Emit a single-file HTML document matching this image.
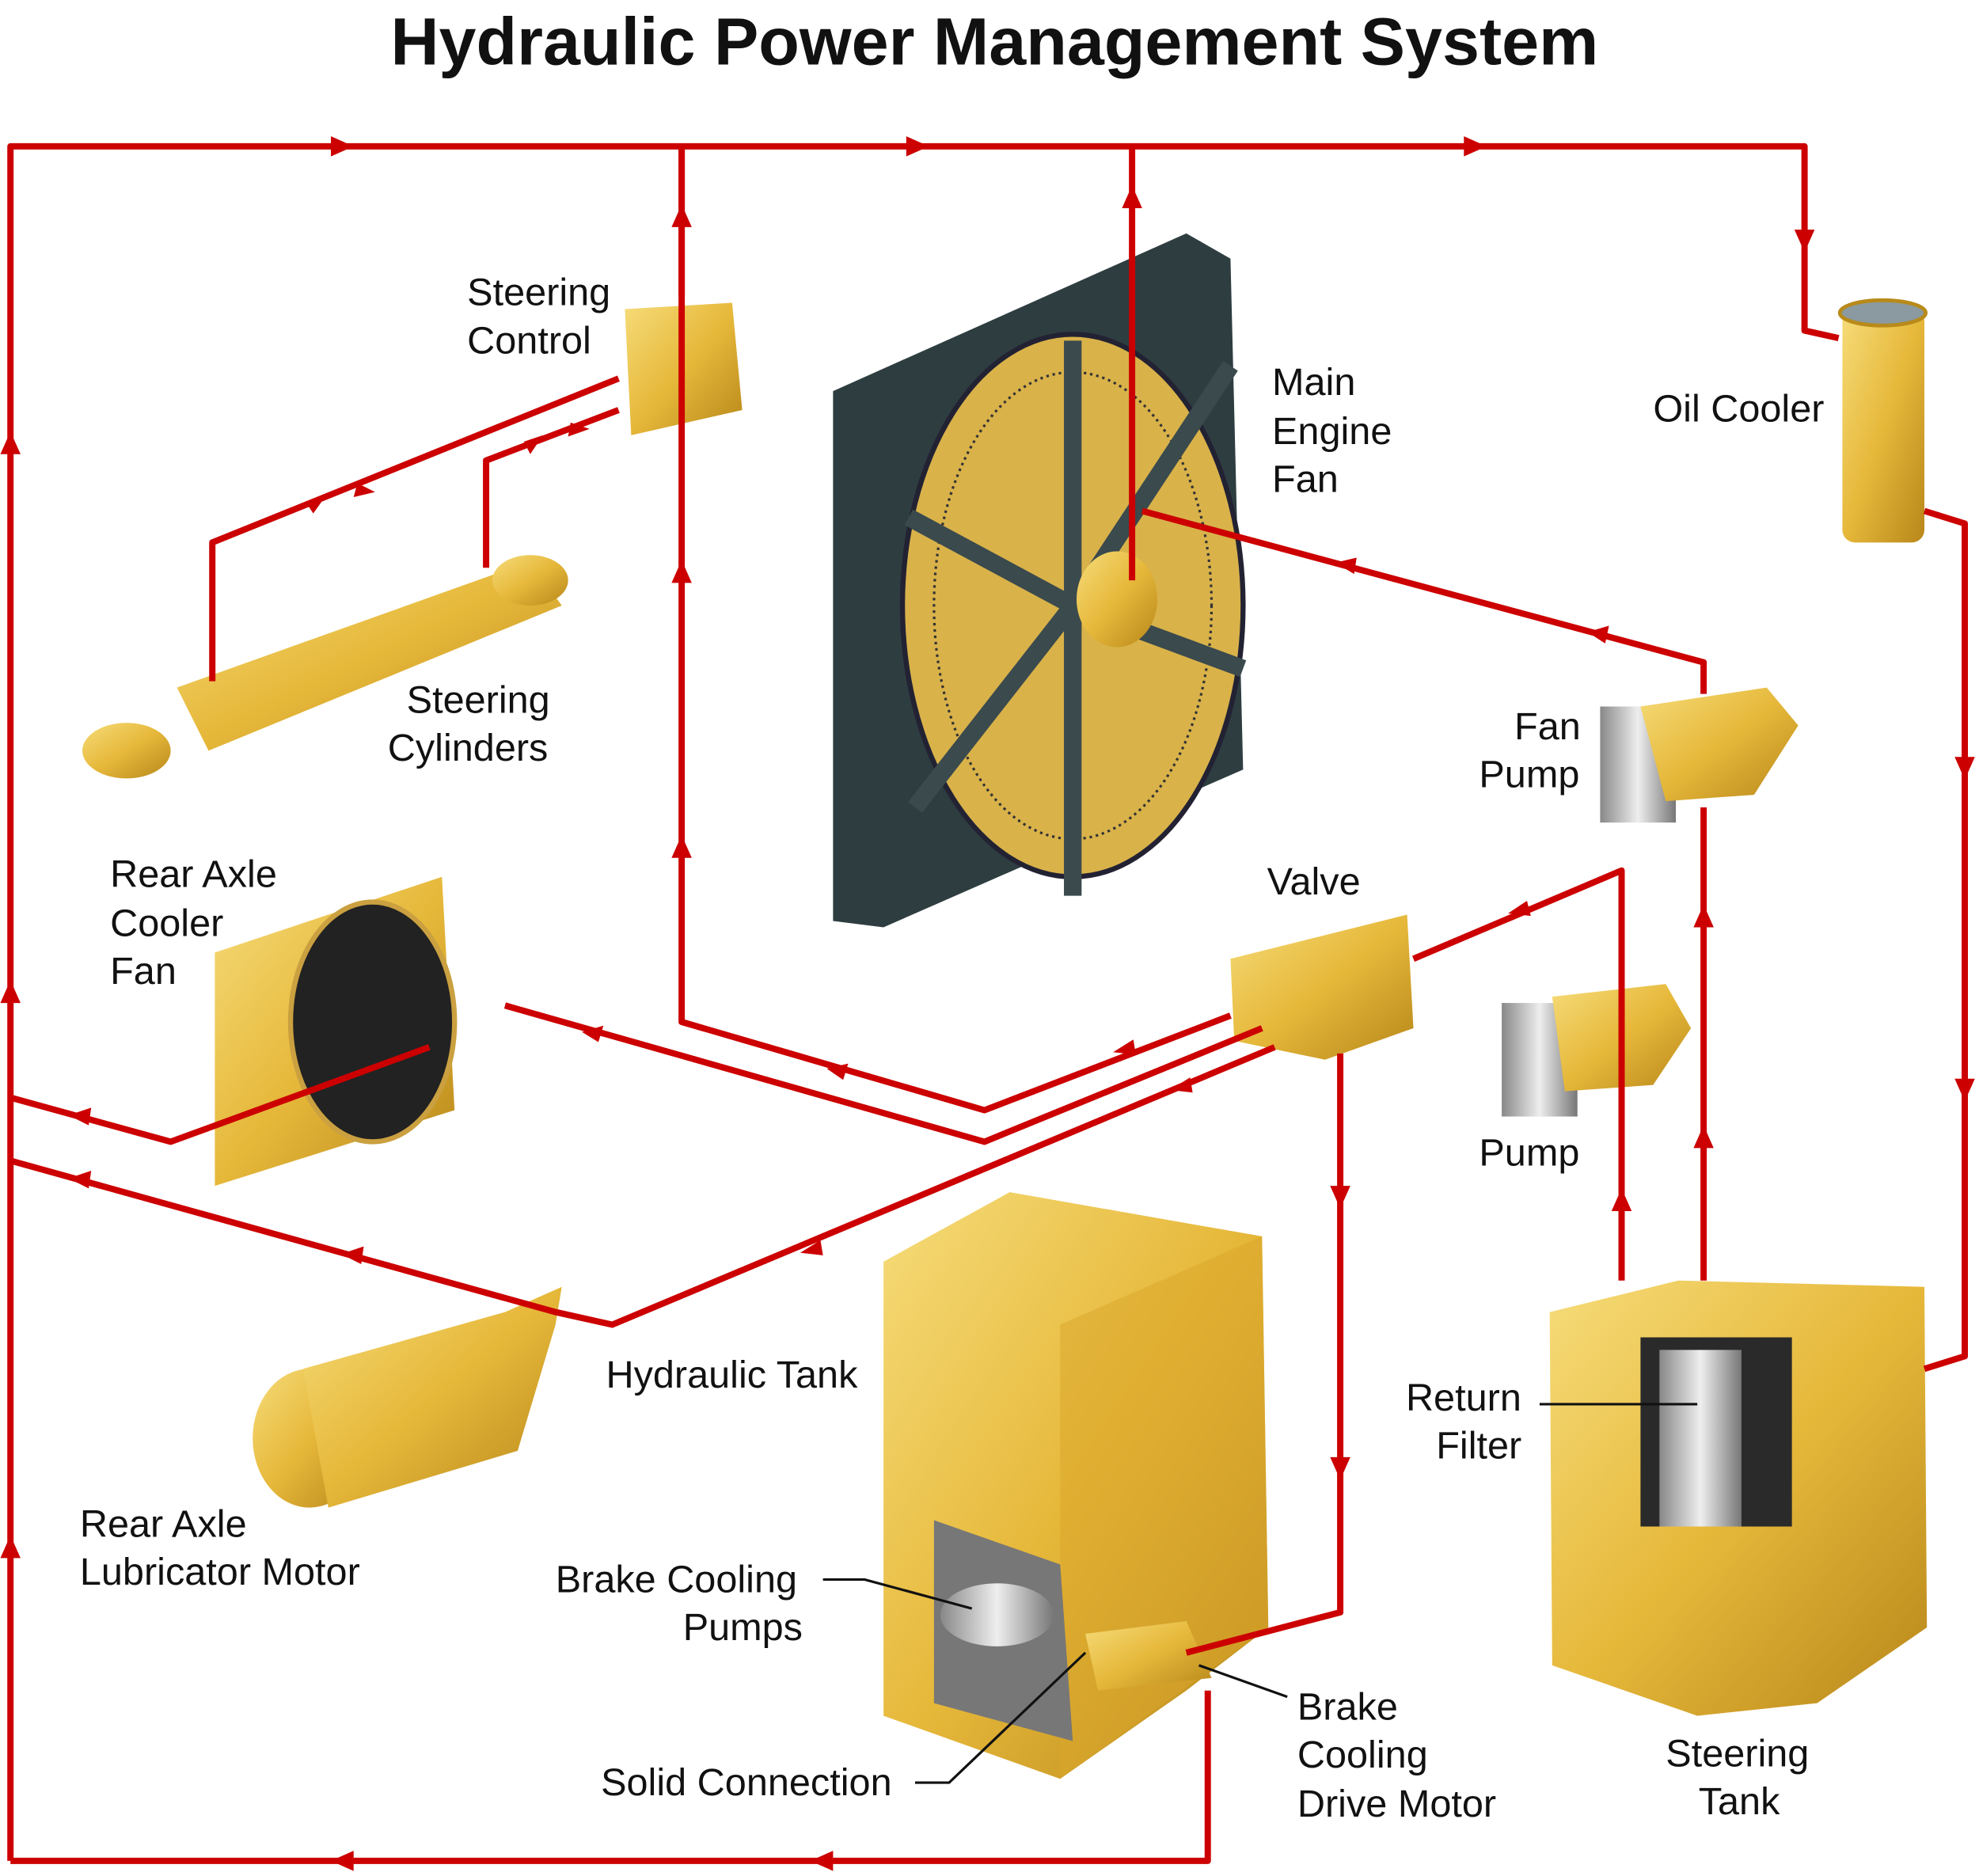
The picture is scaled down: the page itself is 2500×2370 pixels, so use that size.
<!DOCTYPE html>
<html><head><meta charset="utf-8"><style>
html,body{margin:0;padding:0;background:#fff}
svg{display:block}
text{font-family:"Liberation Sans",sans-serif;fill:#111}
</style></head><body>
<svg width="2500" height="2370" viewBox="0 0 1568 1487" xmlns="http://www.w3.org/2000/svg">
<defs>
<linearGradient id="y" x1="0" y1="0" x2="1" y2="1"><stop offset="0" stop-color="#f6dc7a"/><stop offset="0.5" stop-color="#e6b83a"/><stop offset="1" stop-color="#b8871a"/></linearGradient>
<linearGradient id="g" x1="0" y1="0" x2="1" y2="0"><stop offset="0" stop-color="#888"/><stop offset="0.5" stop-color="#eee"/><stop offset="1" stop-color="#777"/></linearGradient>
</defs>
<rect width="1568" height="1487" fill="#fff"/>
<text x="788" y="51" font-size="53" font-weight="bold" text-anchor="middle">Hydraulic Power Management System</text>

<polygon points="660,310 940,185 975,205 985,610 700,735 660,730" fill="#2e3d40"/>
<ellipse cx="850" cy="480" rx="135" ry="215" fill="#d9b24a" stroke="#223" stroke-width="4"/>
<ellipse cx="850" cy="480" rx="110" ry="185" fill="none" stroke="#333" stroke-width="2" stroke-dasharray="2 3"/>
<g stroke="#3a4a4d" stroke-width="14"><line x1="850" y1="480" x2="850" y2="270"/><line x1="850" y1="480" x2="850" y2="710"/><line x1="850" y1="480" x2="720" y2="410"/><line x1="850" y1="480" x2="985" y2="530"/><line x1="850" y1="480" x2="725" y2="640"/><line x1="850" y1="480" x2="975" y2="290"/></g>
<ellipse cx="885" cy="475" rx="32" ry="38" fill="url(#y)"/>
<rect x="1460" y="245" width="65" height="185" rx="10" fill="url(#y)"/>
<ellipse cx="1492" cy="248" rx="34" ry="10" fill="#8a9aa0" stroke="#b88a1a" stroke-width="3"/>
<polygon points="495,245 580,240 588,325 500,345" fill="url(#y)"/>
<polygon points="140,545 420,445 445,480 165,595" fill="url(#y)"/>
<ellipse cx="100" cy="595" rx="35" ry="22" fill="url(#y)"/>
<ellipse cx="420" cy="460" rx="30" ry="20" fill="url(#y)"/>
<polygon points="170,755 350,695 360,880 170,940" fill="url(#y)"/>
<ellipse cx="295" cy="810" rx="65" ry="95" fill="#222" stroke="#caa040" stroke-width="4"/>
<polygon points="975,760 1115,725 1120,815 1050,840 978,825" fill="url(#y)"/>
<rect x="1268" y="560" width="60" height="92" fill="url(#g)"/>
<polygon points="1300,560 1400,545 1425,575 1390,630 1320,635" fill="url(#y)"/>
<rect x="1190" y="795" width="60" height="90" fill="url(#g)"/>
<polygon points="1230,790 1320,780 1340,815 1310,860 1240,865" fill="url(#y)"/>
<ellipse cx="245" cy="1140" rx="45" ry="55" fill="url(#y)"/>
<polygon points="240,1085 400,1040 445,1020 440,1050 410,1150 260,1195" fill="url(#y)"/>
<polygon points="700,1000 800,945 1000,980 1005,1290 940,1340 840,1410 700,1360" fill="url(#y)"/>
<polygon points="840,1050 1000,980 1005,1290 840,1410" fill="#d9a52a" opacity="0.5"/>
<polygon points="740,1205 840,1240 850,1380 740,1350" fill="#777"/>
<ellipse cx="790" cy="1280" rx="45" ry="25" fill="url(#g)"/>
<polygon points="860,1295 940,1285 960,1330 870,1340" fill="url(#y)"/>
<polygon points="1228,1040 1330,1015 1525,1020 1527,1290 1440,1350 1345,1360 1230,1320" fill="url(#y)"/>
<polygon points="1300,1060 1420,1060 1420,1210 1300,1210" fill="#2a2a2a"/>
<rect x="1315" y="1070" width="65" height="140" fill="url(#g)"/>

<g fill="none" stroke="#c00" stroke-width="5" stroke-linejoin="round">
<path d="M8,1475V116H1430V262L1457,268"/>
<path d="M540,116V235"/>
<path d="M897,116V460"/>
<path d="M957,1340V1475H8"/>
<path d="M540,116V810L780,880L975,805"/>
<path d="M905,405L1350,525V550"/>
<path d="M1350,640V1015"/>
<path d="M1525,405L1557,415V1075L1525,1085"/>
<path d="M1285,1015V690L1120,760"/>
<path d="M1062,835V1278L940,1310"/>
<path d="M8,870L135,905L340,830"/>
<path d="M400,797L780,905L1000,815"/>
<path d="M8,920L440,1040L485,1050L1010,830"/>
<path d="M168,540V430L490,300"/>
<path d="M385,450V365L490,325"/>
</g>
<g fill="#c00">
<path d="M262,108L280,116L262,124z"/><path d="M718,108L736,116L718,124z"/><path d="M1160,108L1178,116L1160,124z"/>
<path d="M1422,182L1430,200L1438,182z"/>
<path d="M0,360L8,342L16,360z"/><path d="M0,795L8,777L16,795z"/><path d="M0,1235L8,1217L16,1235z"/>
<path d="M532,180L540,162L548,180z"/><path d="M532,462L540,444L548,462z"/><path d="M532,680L540,662L548,680z"/>
<path d="M889,165L897,147L905,165z"/>
<path d="M1549,600L1557,618L1565,600z"/><path d="M1549,855L1557,873L1565,855z"/>
<path d="M1342,735L1350,717L1358,735z"/><path d="M1342,910L1350,892L1358,910z"/>
<path d="M1277,960L1285,942L1293,960z"/>
<path d="M1054,940L1062,958L1070,940z"/><path d="M1054,1155L1062,1173L1070,1155z"/>
<path d="M280,1467L262,1475L280,1483z"/><path d="M660,1467L642,1475L660,1483z"/>
<path d="M1075,442L1058,446L1073,455z"/><path d="M1275,496L1258,501L1272,510z"/>
<path d="M1210,714L1195,724L1213,726z"/>
<path d="M898,824L882,834L900,836z"/><path d="M943,854L927,864L945,866z"/>
<path d="M672,843L655,847L668,856z"/><path d="M478,813L461,818L474,826z"/>
<path d="M72,878L54,884L70,892z"/><path d="M72,928L54,934L70,942z"/>
<path d="M288,988L270,994L286,1002z"/><path d="M650,983L634,993L652,995z"/>
<path d="M242,398L258,393L248,407z"/><path d="M283,383L297,390L280,394z"/>
<path d="M415,350L430,345L420,360z"/><path d="M452,335L467,340L450,346z"/>
</g>

<g stroke="#111" stroke-width="2" fill="none">
<path d="M1220,1113H1345"/>
<path d="M652,1252H685L770,1275"/>
<path d="M725,1413H752L860,1310"/>
<path d="M1020,1345L950,1320"/>
</g>

<g font-size="30.5">
<text x="370" y="242">Steering</text><text x="370" y="280">Control</text>
<text x="1008" y="313">Main</text><text x="1008" y="352">Engine</text><text x="1008" y="390">Fan</text>
<text x="1310" y="334">Oil Cooler</text>
<text x="322" y="565">Steering</text><text x="307" y="603">Cylinders</text>
<text x="1200" y="586">Fan</text><text x="1172" y="624">Pump</text>
<text x="87" y="703">Rear Axle</text><text x="87" y="742">Cooler</text><text x="87" y="780">Fan</text>
<text x="1004" y="709">Valve</text>
<text x="1172" y="924">Pump</text>
<text x="480" y="1100">Hydraulic Tank</text>
<text x="1114" y="1118">Return</text><text x="1138" y="1156">Filter</text>
<text x="63" y="1218">Rear Axle</text><text x="63" y="1256">Lubricator Motor</text>
<text x="440" y="1262">Brake Cooling</text><text x="541" y="1300">Pumps</text>
<text x="1028" y="1363">Brake</text><text x="1028" y="1401">Cooling</text><text x="1028" y="1440">Drive Motor</text>
<text x="1320" y="1400">Steering</text><text x="1346" y="1438">Tank</text>
<text x="476" y="1423">Solid Connection</text>
</g>
</svg>
</body></html>
